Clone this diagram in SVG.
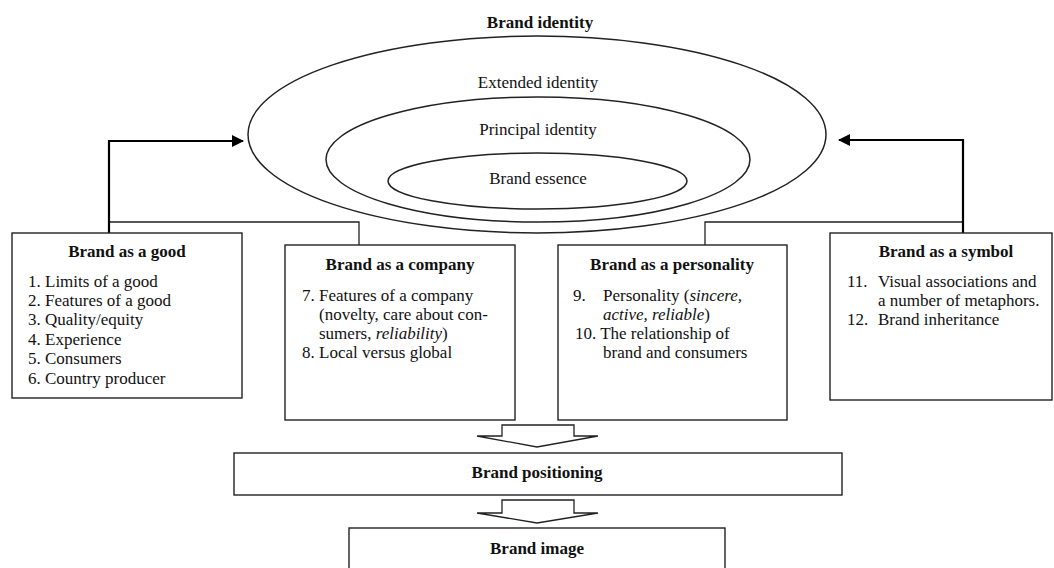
<svg xmlns="http://www.w3.org/2000/svg" width="1054" height="568" viewBox="0 0 1054 568">
  <style>
    text { font-family: "Liberation Serif", "Times New Roman", serif; font-size: 17px; fill: #111; }
    .title { font-weight: bold; text-anchor: middle; }
    .mid { text-anchor: middle; }
    .it { font-style: italic; }
    .box { fill: #fff; stroke: #222; stroke-width: 1.4; }
    .ring { fill: none; stroke: #222; stroke-width: 1.5; }
    .link { fill: none; stroke: #222; stroke-width: 1.3; }
    .feed { fill: none; stroke: #000; stroke-width: 2.2; }
    .block { fill: #fff; stroke: #222; stroke-width: 1.3; stroke-linejoin: miter; }
  </style>
  <defs>
    <marker id="head" viewBox="0 0 12 12" refX="11" refY="6" markerWidth="12" markerHeight="12" orient="auto" markerUnits="userSpaceOnUse">
      <path d="M0,0 L12,6 L0,12 Z" fill="#000"/>
    </marker>
  </defs>
  <rect width="1054" height="568" fill="#fff"/>

  <!-- Nested identity rings -->
  <g id="brand-identity">
    <text class="title" x="540" y="28">Brand identity</text>
    <ellipse class="ring" cx="537" cy="134.5" rx="289" ry="98.5"/>
  </g>
  <g id="extended-identity">
    <text class="mid" x="538" y="88">Extended identity</text>
    <ellipse class="ring" cx="538" cy="159.5" rx="212" ry="62.5"/>
  </g>
  <g id="principal-identity">
    <text class="mid" x="538" y="135">Principal identity</text>
    <ellipse class="ring" cx="537.5" cy="181" rx="149.5" ry="28"/>
  </g>
  <g id="brand-essence">
    <text class="mid" x="538" y="184">Brand essence</text>
  </g>

  <!-- Connectors -->
  <g id="connectors">
    <polyline class="link" points="109,222 359,222 359,245"/>
    <polyline class="link" points="705,245 705,222 963,222"/>
    <polyline class="feed" points="109,233 109,141 243,141" marker-end="url(#head)"/>
    <polyline class="feed" points="963,233 963,140 839,140" marker-end="url(#head)"/>
    <path class="block" d="M502,425 L574,425 L574,436 L598,436 L537,447 L477,436 L502,436 Z"/>
    <path class="block" d="M502,500 L574,500 L574,513 L598,513 L537,523 L477,513 L502,513 Z"/>
  </g>

  <g id="brand-as-good">
    <rect class="box" x="12" y="233" width="230" height="165"/>
    <text class="title" x="127" y="257">Brand as a good</text>
    <text x="28" y="287">1. Limits of a good</text>
    <text x="28" y="306">2. Features of a good</text>
    <text x="28" y="325">3. Quality/equity</text>
    <text x="28" y="345">4. Experience</text>
    <text x="28" y="364">5. Consumers</text>
    <text x="28" y="384">6. Country producer</text>
  </g>

  <g id="brand-as-company">
    <rect class="box" x="285" y="245" width="230" height="175"/>
    <text class="title" x="400" y="270">Brand as a company</text>
    <text x="302" y="301">7. Features of a company</text>
    <text x="319" y="320">(novelty, care about con-</text>
    <text x="319" y="339">sumers, <tspan class="it">reliability</tspan>)</text>
    <text x="302" y="358">8. Local versus global</text>
  </g>

  <g id="brand-as-personality">
    <rect class="box" x="558" y="245" width="229" height="175"/>
    <text class="title" x="672" y="270">Brand as a personality</text>
    <text x="573" y="301">9.</text>
    <text x="603" y="301">Personality (<tspan class="it">sincere,</tspan></text>
    <text x="603" y="320"><tspan class="it">active, reliable</tspan>)</text>
    <text x="575" y="339">10. The relationship of</text>
    <text x="603" y="358">brand and consumers</text>
  </g>

  <g id="brand-as-symbol">
    <rect class="box" x="830" y="233" width="222" height="167"/>
    <text class="title" x="946" y="257">Brand as a symbol</text>
    <text x="847" y="287">11.</text>
    <text x="878" y="287">Visual associations and</text>
    <text x="878" y="306">a number of metaphors.</text>
    <text x="847" y="325">12.</text>
    <text x="878" y="325">Brand inheritance</text>
  </g>

  <g id="brand-positioning">
    <rect class="box" x="234" y="453" width="608" height="42"/>
    <text class="title" x="537" y="478">Brand positioning</text>
  </g>

  <g id="brand-image">
    <rect class="box" x="349" y="528" width="376" height="50"/>
    <text class="title" x="537" y="554">Brand image</text>
  </g>
</svg>
